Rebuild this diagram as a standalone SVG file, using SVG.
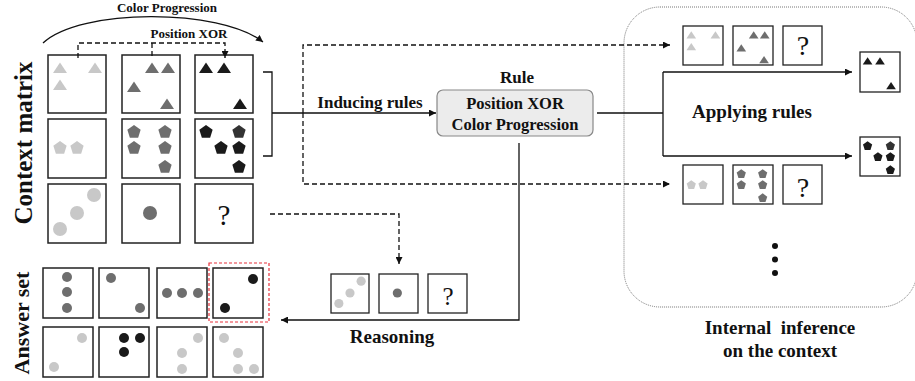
<svg xmlns="http://www.w3.org/2000/svg" xmlns:xlink="http://www.w3.org/1999/xlink" width="915" height="381" viewBox="0 0 915 381">
<style>
.t{font-family:"Liberation Serif","Times New Roman",serif;font-weight:bold;fill:#111;text-anchor:middle}
.q{font-family:"Liberation Serif","Times New Roman",serif;fill:#111;text-anchor:middle}
.box{fill:#fff;stroke:#222;stroke-width:1.5}
.sbox{fill:#fff;stroke:#222;stroke-width:1.3}
.ln{fill:none;stroke:#111;stroke-width:1.3}
.dl{fill:none;stroke:#111;stroke-width:1.3;stroke-dasharray:5,3}
.lg{fill:#c8c8c8}
.gr{fill:#6e6e6e}
.bk{fill:#1a1a1a}
</style>
<defs>
<marker id="ah" viewBox="0 0 10 10" refX="10" refY="5" markerWidth="8" markerHeight="7" markerUnits="userSpaceOnUse" orient="auto"><path d="M0,0 L10,5 L0,10Z" fill="#111"/></marker>
<path id="tri" d="M0,-5.5 L7,5 L-7,5Z"/>
<path id="pen" d="M0,-7 L6.66,-2.16 L4.11,5.66 L-4.11,5.66 L-6.66,-2.16Z"/>
<g id="r1c1" class="lg"><use href="#tri" x="60" y="68"/><use href="#tri" x="95" y="68"/><use href="#tri" x="60" y="85"/></g>
<g id="r1c2" class="gr"><use href="#tri" x="152" y="68"/><use href="#tri" x="168" y="68"/><use href="#tri" x="134" y="87"/><use href="#tri" x="167" y="104"/></g>
<g id="r1c3" class="bk"><use href="#tri" x="206" y="68"/><use href="#tri" x="224" y="68"/><use href="#tri" x="240" y="104"/></g>
<g id="r2c1" class="lg"><use href="#pen" x="60" y="148"/><use href="#pen" x="77" y="148"/></g>
<g id="r2c2" class="gr"><use href="#pen" x="134" y="132"/><use href="#pen" x="165" y="132"/><use href="#pen" x="134" y="148"/><use href="#pen" x="165" y="148"/><use href="#pen" x="165" y="167"/></g>
<g id="r2c3" class="bk"><use href="#pen" x="206" y="132"/><use href="#pen" x="239" y="132" fill="#333"/><use href="#pen" x="221" y="148"/><use href="#pen" x="239" y="148"/><use href="#pen" x="239" y="167"/></g>
<g id="r3c1" class="lg"><circle cx="94" cy="195" r="7"/><circle cx="77" cy="213" r="7"/><circle cx="60" cy="229" r="7"/></g>
<g id="r3c2" class="gr"><circle cx="150" cy="213" r="7"/></g>
</defs>

<!-- labels -->
<text class="t" font-size="25" transform="translate(32,143) rotate(-90)">Context matrix</text>
<text class="t" font-size="22" transform="translate(29,323) rotate(-90)">Answer set</text>

<!-- context matrix -->
<g id="matrix">
<rect class="box" x="48" y="55" width="58" height="58"/><use href="#r1c1"/>
<rect class="box" x="122" y="55" width="58" height="58"/><use href="#r1c2"/>
<rect class="box" x="195" y="55" width="58" height="58"/><use href="#r1c3"/>
<rect class="box" x="48" y="119" width="58" height="59"/><use href="#r2c1"/>
<rect class="box" x="122" y="119" width="58" height="59"/><use href="#r2c2"/>
<rect class="box" x="195" y="119" width="58" height="59"/><use href="#r2c3"/>
<rect class="box" x="48" y="184" width="58" height="59"/><use href="#r3c1"/>
<rect class="box" x="122" y="184" width="58" height="59"/><use href="#r3c2"/>
<rect class="box" x="195" y="184" width="58" height="59"/>
<text class="q" x="224" y="225" font-size="29">?</text>
</g>

<!-- answer set -->
<g id="answers">
<rect class="box" x="43" y="268" width="50" height="50"/>
<g class="gr"><circle cx="67" cy="277" r="5"/><circle cx="67" cy="292" r="5"/><circle cx="67" cy="308" r="5"/></g>
<rect class="box" x="99" y="268" width="50" height="50"/>
<g class="gr"><circle cx="111" cy="278" r="5"/><circle cx="140" cy="308" r="5"/></g>
<rect class="box" x="157" y="268" width="50" height="50"/>
<g class="gr"><circle cx="167" cy="293" r="5"/><circle cx="182" cy="293" r="5"/><circle cx="198" cy="293" r="5"/></g>
<rect class="box" x="213" y="268" width="50" height="50"/>
<g class="bk"><circle cx="253" cy="279" r="5"/><circle cx="225" cy="308" r="5"/></g>
<rect x="209" y="263" width="60" height="59" fill="none" stroke="#e8323c" stroke-width="1.2" stroke-dasharray="3,2"/>
<rect class="box" x="43" y="327" width="50" height="50"/>
<g class="lg"><circle cx="82" cy="338" r="5"/><circle cx="54" cy="367" r="5"/></g>
<rect class="box" x="99" y="327" width="50" height="50"/>
<g class="bk"><circle cx="124" cy="338" r="5"/><circle cx="140" cy="338" r="5"/><circle cx="124" cy="352" r="5"/></g>
<rect class="box" x="157" y="327" width="50" height="50"/>
<g class="lg"><circle cx="198" cy="338" r="5"/><circle cx="182" cy="353" r="5"/><circle cx="182" cy="369" r="5"/></g>
<rect class="box" x="213" y="327" width="50" height="50"/>
<g class="lg"><circle cx="224" cy="338" r="5"/><circle cx="238" cy="353" r="5"/><circle cx="238" cy="369" r="5"/><circle cx="254" cy="369" r="5"/></g>
</g>

<!-- rule node -->
<g id="rule">
<text class="t" x="517" y="83" font-size="17">Rule</text>
<rect x="437" y="90" width="156" height="46" rx="6" fill="#ececec" stroke="#888" stroke-width="1.2"/>
<text class="t" x="515" y="109" font-size="16.5">Position XOR</text>
<text class="t" x="515" y="130" font-size="16.5">Color Progression</text>
</g>

<!-- reasoning small row -->
<g id="reasoning">
<rect class="sbox" x="331" y="274" width="38" height="39"/>
<use href="#r3c1" transform="translate(331,274) scale(0.655) translate(-48,-184)"/>
<rect class="sbox" x="379" y="274" width="39" height="39"/>
<use href="#r3c2" transform="translate(379,274) scale(0.655) translate(-122,-184)"/>
<rect class="sbox" x="428" y="274" width="39" height="39"/>
<text class="q" x="448" y="305" font-size="25">?</text>
<text class="t" x="392" y="343" font-size="19">Reasoning</text>
</g>

<!-- internal inference panel -->
<g id="panel">
<rect x="624" y="7" width="293" height="300" rx="36" fill="none" stroke="#777" stroke-width="1" stroke-dasharray="1,1"/>
<rect class="sbox" x="683" y="26" width="40" height="39"/>
<use href="#r1c1" transform="translate(683,26) scale(0.69) translate(-48,-55)"/>
<rect class="sbox" x="733" y="26" width="40" height="39"/>
<use href="#r1c2" transform="translate(733,26) scale(0.69) translate(-122,-55)"/>
<rect class="sbox" x="783" y="26" width="39" height="39"/>
<text class="q" x="803" y="55" font-size="28">?</text>
<rect class="sbox" x="683" y="165" width="40" height="39"/>
<use href="#r2c1" transform="translate(683,165) scale(0.69) translate(-48,-119)"/>
<rect class="sbox" x="733" y="165" width="40" height="39"/>
<use href="#r2c2" transform="translate(733,165) scale(0.69) translate(-122,-119)"/>
<rect class="sbox" x="783" y="165" width="39" height="39"/>
<text class="q" x="803" y="197" font-size="28">?</text>
<rect class="sbox" x="860" y="52" width="40" height="40"/>
<use href="#r1c3" transform="translate(860,52) scale(0.69) translate(-195,-55)"/>
<rect class="sbox" x="860" y="137" width="40" height="39"/>
<use href="#r2c3" transform="translate(860,137) scale(0.69) translate(-195,-119)"/>
<text class="t" x="752" y="118" font-size="19">Applying rules</text>
<g fill="#111"><circle cx="775" cy="246" r="3"/><circle cx="775" cy="259.5" r="3"/><circle cx="775" cy="273" r="3"/></g>
<text class="t" x="780" y="334" font-size="19" style="white-space:pre">Internal  inference</text>
<text class="t" x="780" y="357" font-size="19">on the context</text>
</g>

<!-- connectors -->
<g id="connectors">
<path class="ln" d="M43,43 C80,8 220,8 263,42" marker-end="url(#ah)"/>
<text class="t" x="167" y="12" font-size="13">Color Progression</text>
<path class="dl" d="M78,58 V43 H225 V58" marker-end="url(#ah)"/>
<path class="dl" d="M152,43 V57"/>
<text class="t" x="189" y="38" font-size="13">Position XOR</text>
<path class="ln" d="M263,72 H272 V156 H263 M272,113 H436" marker-end="url(#ah)"/>
<text class="t" x="370" y="108" font-size="17">Inducing rules</text>
<path class="dl" d="M303,113 V45 H670" marker-end="url(#ah)"/>
<path class="dl" d="M303,113 V184 H670" marker-end="url(#ah)"/>
<path class="ln" d="M597,113 H663 M663,72 V156"/>
<path class="ln" d="M663,72 H852" marker-end="url(#ah)"/>
<path class="ln" d="M663,156 H852" marker-end="url(#ah)"/>
<path class="ln" d="M519,143 V320 H281" marker-end="url(#ah)"/>
<path class="dl" d="M270,214 H399 V264" marker-end="url(#ah)"/>
</g>
</svg>
